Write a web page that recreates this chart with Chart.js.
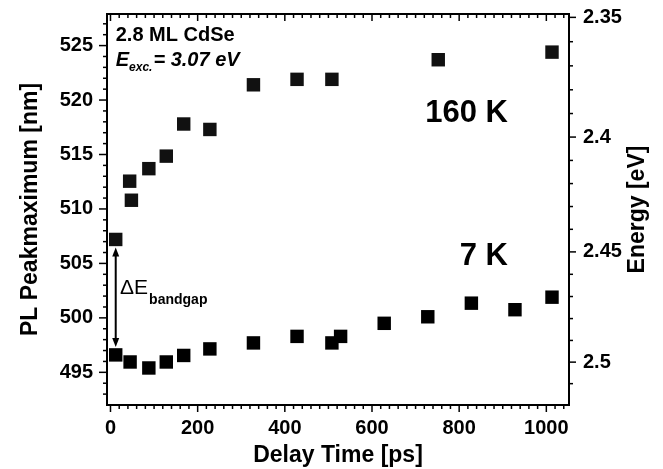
<!DOCTYPE html>
<html>
<head>
<meta charset="utf-8">
<script src="https://cdn.jsdelivr.net/npm/chart.js@4/dist/chart.umd.min.js"></script>
<style>
html,body{margin:0;padding:0;background:#fff;}
#wrap{width:663px;height:469px;}
</style>
</head>
<body>
<div id="wrap"><canvas id="c" width="663" height="469"></canvas></div>
<script>
// ---- data ----
const delay7K   = [12, 45, 88, 128, 168, 228, 328, 428, 508, 528, 628, 728, 828, 928, 1013];
const peak7K    = [496.6, 495.95, 495.4, 495.95, 496.55, 497.15, 497.7, 498.3, 497.7, 498.3, 499.5, 500.1, 501.35, 500.75, 501.9];
const delay160K = [12, 44, 48, 88, 128, 168, 228, 328, 428, 508, 752, 1013];
const peak160K  = [507.2, 512.55, 510.8, 513.7, 514.85, 517.8, 517.3, 521.4, 521.9, 521.9, 523.7, 524.4];

const delayTicks  = [0, 200, 400, 600, 800, 1000];
const nmTicks     = [495, 500, 505, 510, 515, 520, 525];
const eVTicks     = [2.35, 2.4, 2.45, 2.5];
const eVTickLabels = ['2.35', '2.4', '2.45', '2.5'];
const HC = 1239.84; // eV*nm

const FONT = 'Liberation Sans, Arial, Helvetica, sans-serif';
Chart.defaults.font.family = FONT;
Chart.defaults.color = '#000';

const pts = (xs, ys) => xs.map((x, i) => ({x: x, y: ys[i]}));

const framePlugin = {
  id: 'frameTicks',
  afterDraw(chart) {
    const {ctx, chartArea: a, scales} = chart;
    const x = scales.x, y = scales.y, y2 = scales.y2;
    const seg = (x1, y1, x2, y2_) => { ctx.beginPath(); ctx.moveTo(x1, y1); ctx.lineTo(x2, y2_); ctx.stroke(); };
    ctx.save();
    ctx.strokeStyle = '#000';
    ctx.lineWidth = 1.5;
    for (let v = 0; v <= 1040; v += 20) {
      const px = x.getPixelForValue(v);
      const major = v % 200 === 0;
      seg(px, a.bottom, px, a.bottom + (major ? 7 : 4));
      seg(px, a.top, px, a.top + (major ? 7 : 4));
    }
    for (let v = 493; v <= 527; v++) {
      const py = y.getPixelForValue(v);
      const major = v % 5 === 0;
      seg(a.left, py, a.left - (major ? 8 : 4), py);
    }
    for (let k = 235; k <= 251; k++) {
      const py = y2.getPixelForValue(HC / (k / 100));
      const major = k % 5 === 0;
      seg(a.right, py, a.right + (major ? 7 : 4), py);
    }
    ctx.lineWidth = 2;
    ctx.strokeRect(a.left, a.top, a.right - a.left, a.bottom - a.top);
    ctx.fillStyle = '#000';
    ctx.font = 'bold 23px ' + FONT;
    ctx.textAlign = 'center';
    ctx.textBaseline = 'middle';
    ctx.translate(638, (a.top + a.bottom) / 2);
    ctx.rotate(-Math.PI / 2);
    ctx.fillText('Energy [eV]', 0, 0);
    ctx.restore();
  }
};

const annotPlugin = {
  id: 'annot',
  afterDatasetsDraw(chart) {
    const {ctx, scales} = chart;
    const X = v => scales.x.getPixelForValue(v);
    const Y = v => scales.y.getPixelForValue(v);
    ctx.save();
    ctx.fillStyle = '#000';
    ctx.strokeStyle = '#000';
    ctx.textBaseline = 'middle';
    ctx.textAlign = 'left';

    ctx.font = 'bold 20px ' + FONT;
    ctx.fillText('2.8 ML CdSe', X(12), Y(525.9));

    let cx = X(12);
    const cy = Y(523.6);
    ctx.font = 'italic bold 20px ' + FONT;
    ctx.fillText('E', cx, cy);
    cx += ctx.measureText('E').width;
    ctx.font = 'italic bold 12px ' + FONT;
    ctx.fillText('exc.', cx, cy + 7);
    cx += ctx.measureText('exc.').width + 1;
    ctx.font = 'italic bold 20px ' + FONT;
    ctx.fillText('= 3.07 eV', cx, cy);

    ctx.font = 'bold 31px ' + FONT;
    ctx.textAlign = 'right';
    ctx.fillText('160 K', X(912), Y(518.8));
    ctx.fillText('7 K', X(912), Y(505.6));

    const ax = X(delay7K[0]);
    const yTop = Y(peak160K[0]) + 8;
    const yBot = Y(peak7K[0]) - 8;
    ctx.lineWidth = 2;
    ctx.beginPath(); ctx.moveTo(ax, yTop + 6); ctx.lineTo(ax, yBot - 6); ctx.stroke();
    ctx.beginPath(); ctx.moveTo(ax, yTop); ctx.lineTo(ax - 3.5, yTop + 9); ctx.lineTo(ax + 3.5, yTop + 9); ctx.closePath(); ctx.fill();
    ctx.beginPath(); ctx.moveTo(ax, yBot); ctx.lineTo(ax - 3.5, yBot - 9); ctx.lineTo(ax + 3.5, yBot - 9); ctx.closePath(); ctx.fill();

    ctx.textAlign = 'left';
    ctx.font = '21px ' + FONT;
    let tx = X(22);
    ctx.fillText('\u0394E', tx, Y(502.7));
    tx += ctx.measureText('\u0394E').width + 1;
    ctx.font = 'bold 14px ' + FONT;
    ctx.fillText('bandgap', tx, Y(501.6));
    ctx.restore();
  }
};

const fitV = w => s => { s.width = w; s.paddingTop = 0; s.paddingBottom = 0; };

new Chart(document.getElementById('c'), {
  type: 'scatter',
  data: {
    datasets: [
      { label: '160 K', data: pts(delay160K, peak160K), pointStyle: 'rect', pointRadius: 9.5, pointHoverRadius: 9.5,
        backgroundColor: '#111', borderWidth: 0, yAxisID: 'y' },
      { label: '7 K', data: pts(delay7K, peak7K), pointStyle: 'rect', pointRadius: 9.5, pointHoverRadius: 9.5,
        backgroundColor: '#000', borderWidth: 0, yAxisID: 'y' }
    ]
  },
  options: {
    responsive: false,
    animation: false,
    devicePixelRatio: 1,
    events: [],
    layout: { padding: { top: 14, left: 0, right: 0, bottom: 0 } },
    plugins: { legend: { display: false }, tooltip: { enabled: false } },
    scales: {
      x: {
        type: 'linear', position: 'bottom', min: -8, max: 1052, bounds: 'data',
        afterBuildTicks: s => { s.ticks = delayTicks.map(v => ({value: v})); },
        afterFit: s => { s.height = 64; s.paddingLeft = 0; s.paddingRight = 0; },
        grid: { display: false, drawTicks: false, tickLength: 0 },
        border: { display: false },
        ticks: { autoSkip: false, maxRotation: 0, padding: 11, color: '#000',
                 font: { size: 20, weight: 'bold' }, callback: v => String(v) },
        title: { display: true, text: 'Delay Time [ps]', color: '#000',
                 font: { size: 23, weight: 'bold', lineHeight: 1.2 }, padding: { top: 0, bottom: 0 } }
      },
      y: {
        type: 'linear', position: 'left', min: 492, max: 527.9, bounds: 'data',
        afterBuildTicks: s => { s.ticks = nmTicks.map(v => ({value: v})); },
        afterFit: fitV(107),
        grid: { display: false, drawTicks: false, tickLength: 0 },
        border: { display: false },
        ticks: { autoSkip: false, padding: 14, color: '#000',
                 font: { size: 20, weight: 'bold' }, callback: v => String(v) },
        title: { display: true, text: 'PL Peakmaximum [nm]', color: '#000',
                 font: { size: 23, weight: 'bold', lineHeight: 1.2 }, padding: { top: 17, bottom: 0 } }
      },
      y2: {
        type: 'linear', position: 'right', min: 492, max: 527.9, bounds: 'data',
        afterBuildTicks: s => { s.ticks = eVTicks.map(e => ({value: HC / e})); },
        afterFit: fitV(94),
        grid: { display: false, drawTicks: false, tickLength: 0 },
        border: { display: false },
        ticks: { autoSkip: false, padding: 14, color: '#000',
                 font: { size: 20, weight: 'bold' }, callback: (v, i) => eVTickLabels[i] },
        title: { display: false }
      }
    }
  },
  plugins: [framePlugin, annotPlugin]
});
</script>
</body>
</html>
